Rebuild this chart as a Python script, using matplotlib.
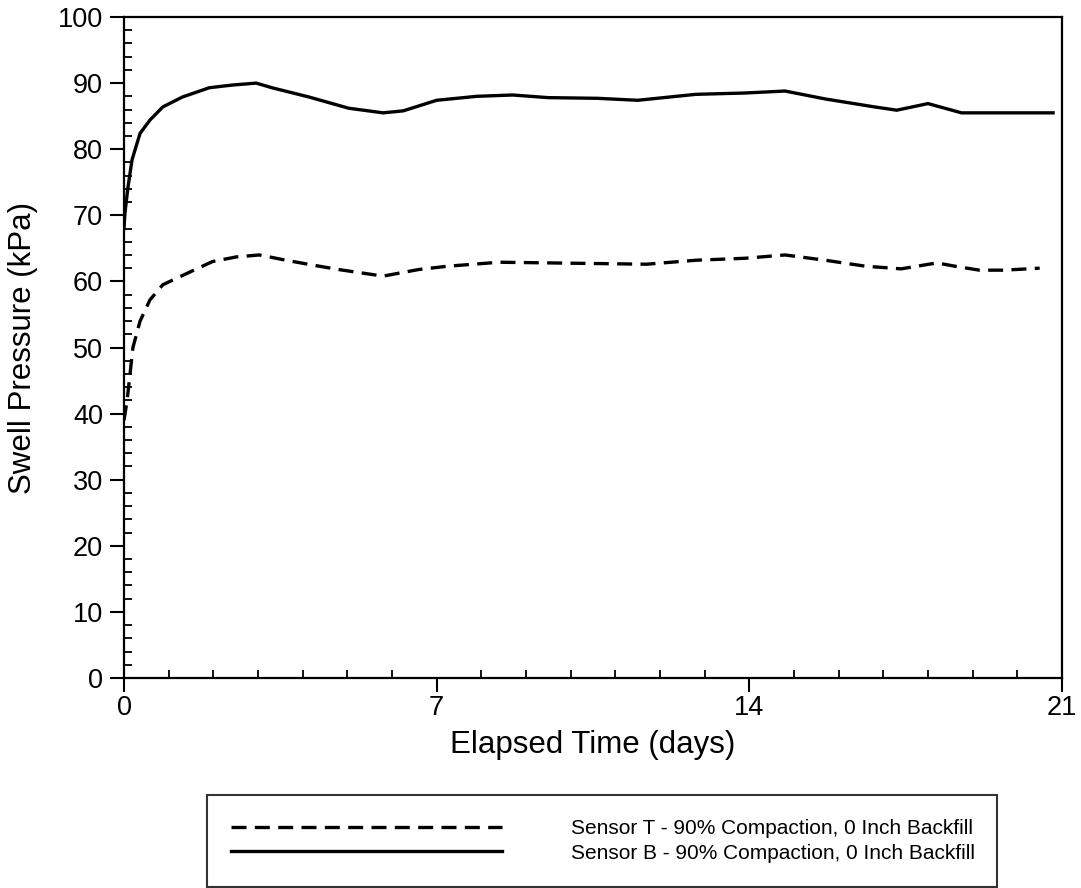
import matplotlib.pyplot as plt
from matplotlib.ticker import MultipleLocator

plt.rcParams['font.family'] = ['Liberation Sans', 'DejaVu Sans']

# Sensor B (solid) - days, kPa
days_b = [0.0, 0.02, 0.09, 0.18, 0.36, 0.58, 0.87, 1.31, 1.91, 2.42, 2.96, 3.31,
          4.14, 5.03, 5.8, 6.25, 7.0, 7.9, 8.7, 9.5, 10.6, 11.5, 12.8, 13.9,
          14.8, 15.7, 16.8, 17.3, 18.0, 18.75, 19.5, 20.8]
press_b = [68.0, 70.3, 74.3, 78.4, 82.4, 84.4, 86.4, 87.9, 89.3, 89.7, 90.0, 89.3,
           87.9, 86.2, 85.5, 85.8, 87.4, 88.0, 88.2, 87.8, 87.7, 87.4, 88.3, 88.5,
           88.8, 87.6, 86.4, 85.9, 86.9, 85.5, 85.5, 85.5]

# Sensor T (dashed)
days_t = [0.0, 0.07, 0.2, 0.36, 0.58, 0.87, 1.47, 1.98, 2.51, 3.03, 3.63, 4.2,
          4.8, 5.8, 6.6, 7.25, 8.4, 9.5, 10.6, 11.7, 12.8, 13.9, 14.8, 15.7,
          16.6, 17.4, 18.2, 18.6, 19.15, 19.7, 20.5]
press_t = [39.0, 42.0, 50.0, 54.0, 57.2, 59.5, 61.4, 63.0, 63.7, 64.0, 63.2, 62.5,
           61.8, 60.8, 61.8, 62.3, 62.9, 62.8, 62.7, 62.6, 63.2, 63.5, 64.0, 63.2,
           62.3, 61.9, 62.8, 62.3, 61.7, 61.7, 62.0]

label_t = "Sensor T - 90% Compaction, 0 Inch Backfill"
label_b = "Sensor B - 90% Compaction, 0 Inch Backfill"

fig = plt.figure(figsize=(10.81, 8.88), dpi=100)
ax = fig.add_axes([124 / 1081, 1 - 678 / 888, 938 / 1081, 661 / 888])

ax.plot(days_t, press_t, color='black', lw=2.4, dashes=(4.5, 2.5), label=label_t)
ax.plot(days_b, press_b, color='black', lw=2.4, label=label_b)

ax.set_xlim(0, 21)
ax.set_ylim(0, 100)
ax.xaxis.set_major_locator(MultipleLocator(7))
ax.xaxis.set_minor_locator(MultipleLocator(1))
ax.yaxis.set_major_locator(MultipleLocator(10))
ax.yaxis.set_minor_locator(MultipleLocator(2))
ax.tick_params(which='major', direction='out', length=10, width=1.5, labelsize=19.5, pad=5)
ax.tick_params(axis='x', which='major', pad=2)
ax.tick_params(which='minor', direction='in', length=6, width=1.3)
for s in ax.spines.values():
    s.set_linewidth(1.6)

ax.set_xlabel("Elapsed Time (days)", fontsize=22.5, labelpad=7)
ax.set_ylabel("Swell Pressure (kPa)", fontsize=22.5, labelpad=14)

leg = fig.legend(loc='center', bbox_to_anchor=(207 / 1081, 3 / 888, 790 / 1081, 88 / 888),
                 mode='expand', borderaxespad=0, fontsize=15, handlelength=13,
                 handletextpad=3.3, borderpad=1.15, labelspacing=0.25,
                 fancybox=False, edgecolor='black')
leg.get_frame().set_linewidth(1.5)

fig.savefig("out.png", dpi=100)
